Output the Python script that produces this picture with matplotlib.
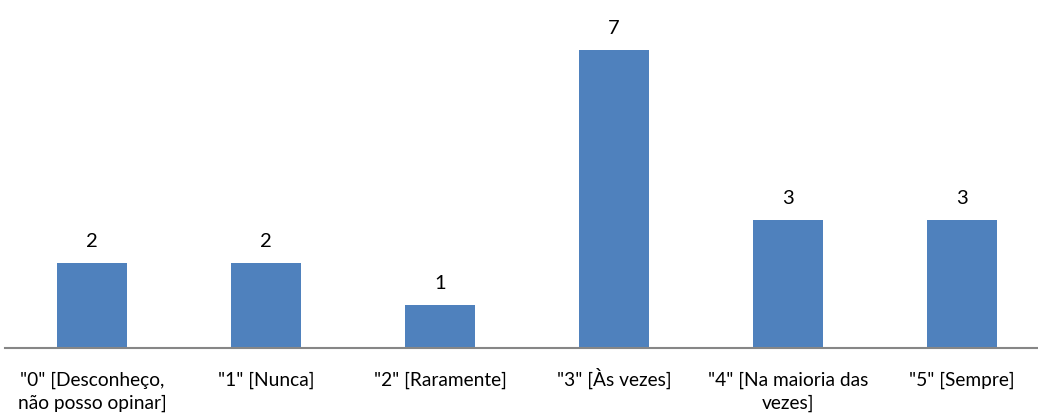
import matplotlib
matplotlib.use("Agg")
import matplotlib.pyplot as plt

categories = ['"0" [Desconheço,\nnão posso opinar]', '"1" [Nunca]', '"2" [Raramente]',
              '"3" [Às vezes]', '"4" [Na maioria das\nvezes]', '"5" [Sempre]']
values = [2, 2, 1, 7, 3, 3]

plt.rcParams['font.family'] = ['Lato', 'DejaVu Sans']

fig = plt.figure(figsize=(10.38, 4.14), dpi=100)
ax = fig.add_axes([5 / 1038, 65 / 414, 1044 / 1038, 341 / 414])

x = list(range(len(values)))
ax.bar(x, values, width=0.4, color='#4F81BD')
for xi, v in zip(x, values):
    ax.annotate(str(v), (xi, v), xytext=(0, 10), textcoords='offset points',
                ha='center', va='bottom', fontsize=14.5, color='black')

# rótulos do eixo x: cada linha alinhada pela linha de base
for xi, cat in zip(x, categories):
    for i, line in enumerate(cat.split('\n')):
        ax.annotate(line, (xi, 0), xycoords=('data', 'axes fraction'),
                    xytext=(0, -26.6 - 16.6 * i), textcoords='offset points',
                    ha='center', va='baseline', fontsize=13.8, color='black')

ax.set_xlim(-0.5, 5.5)
ax.set_ylim(0, 8)
ax.set_xticks([])
ax.set_yticks([])
for s in ['top', 'right', 'left']:
    ax.spines[s].set_visible(False)
ax.spines['bottom'].set_color('#868686')
ax.spines['bottom'].set_linewidth(1.5)

fig.savefig('out.png', dpi=100)
